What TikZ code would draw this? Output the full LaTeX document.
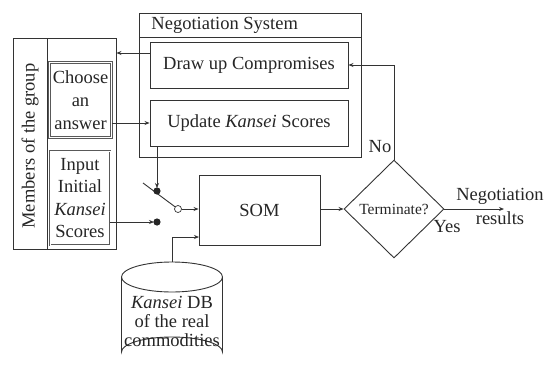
\documentclass[tikz,border=0pt]{standalone}
\usepackage{fontspec}
\setmainfont{Liberation Serif}
\usetikzlibrary{shapes.geometric,arrows.meta}
\begin{document}
\begin{tikzpicture}[x=1pt,y=-1pt,
  line width=0.9pt, draw=black!80,
  every node/.style={font=\fontsize{18.5}{23}\selectfont, text=black!85},
  box/.style={draw, inner sep=0pt},
  dbox/.style={draw=black!65, double=white, line width=0.7pt, double distance=1pt, inner sep=0pt, align=center},
  arr/.style={-{Stealth[length=5pt,width=4pt]}},
  lbl/.style={inner sep=0pt}]
\useasboundingbox[fill=white] (0,0) rectangle (544,370);

% Negotiation system
\node[box, minimum width=222, minimum height=144] (ns) at (250,85) {};
\coordinate (nst) at (139,37);
\draw (nst) -- (nst -| ns.east);
\node[lbl, anchor=west] (nstitle) at (151,25) {Negotiation System};
\node[box, minimum width=198, minimum height=46] (draw) at (249,65) {Draw up Compromises};
\node[box, minimum width=198, minimum height=46] (upd) at (249,123) {Update \textit{Kansei} Scores};

% Members of the group
\node[box, minimum width=103, minimum height=211] (mem) at (64.5,143.5) {};
\coordinate (msep) at (47,38);
\draw (msep) -- (msep |- mem.south);
\node[lbl, rotate=90] (memtxt) at (30,146) {Members of the group};
\node[dbox, minimum width=62, minimum height=75] (cho) at (80.5,100) {Choose\\an\\answer};
\node[dbox, minimum width=60, minimum height=94, font=\fontsize{18.5}{22.5}\selectfont] (inp) at (80,198) {Input\\Initial\\\textit{Kansei}\\Scores};

% SOM and decision
\node[box, minimum width=121, minimum height=70] (som) at (259.5,210) {SOM};
\node[draw, diamond, minimum width=100, minimum height=98, inner sep=0pt, font=\fontsize{15.5}{18}\selectfont] (dia) at (394,209) {Terminate?};

% switch
\coordinate (sw1) at (157,191);
\coordinate (sw2) at (157,222);
\coordinate (lev) at (143,183);
\node[circle, draw, fill=white, line width=0.7pt, inner sep=0pt, minimum size=7] (sw0) at (178,209) {};
\draw[arr, shorten >=3pt] (upd.south -| sw1) -- (sw1);
\draw (lev) -- (sw0);
\fill[black!85] (sw1) circle (3.6);
\draw[arr, shorten >=3pt] (sw2 -| inp.east) -- (sw2);
\fill[black!85] (sw2) circle (3.6);
\draw[arr] (sw0) -- (sw0 -| som.west);

% database
\coordinate (dbtop) at (172,262);
\draw (222.5,277) arc[start angle=0, end angle=360, x radius=50.5, y radius=15];
\draw (121.5,277) -- (121.5,352) arc[start angle=180, end angle=360, x radius=50.5, y radius=15] -- (222.5,277);
\node[lbl, align=center, font=\fontsize{18.5}{19}\selectfont] (db) at (172,321) {\textit{Kansei} DB\\of the real\\commodities};
\coordinate (somdb) at (199,237);
\draw[arr] (dbtop) |- (somdb);

% connectors
\coordinate (d1) at (150,53);
\draw[arr] (d1) -- (d1 -| mem.east);
\draw[arr] (upd.west -| cho.east) -- (upd.west);
\draw[arr] (som.east |- dia.west) -- (dia.west);
\draw[arr] (dia.north) |- (draw.east);
\coordinate (out) at (504,209);
\draw[arr] (dia.east) -- (out);

% labels
\node[lbl] (no) at (380,147) {No};
\node[lbl] (yes) at (447,227) {Yes};
\node[lbl, align=center, font=\fontsize{18.5}{24}\selectfont] (res) at (500,206) {Negotiation\\results};
\end{tikzpicture}
\end{document}
